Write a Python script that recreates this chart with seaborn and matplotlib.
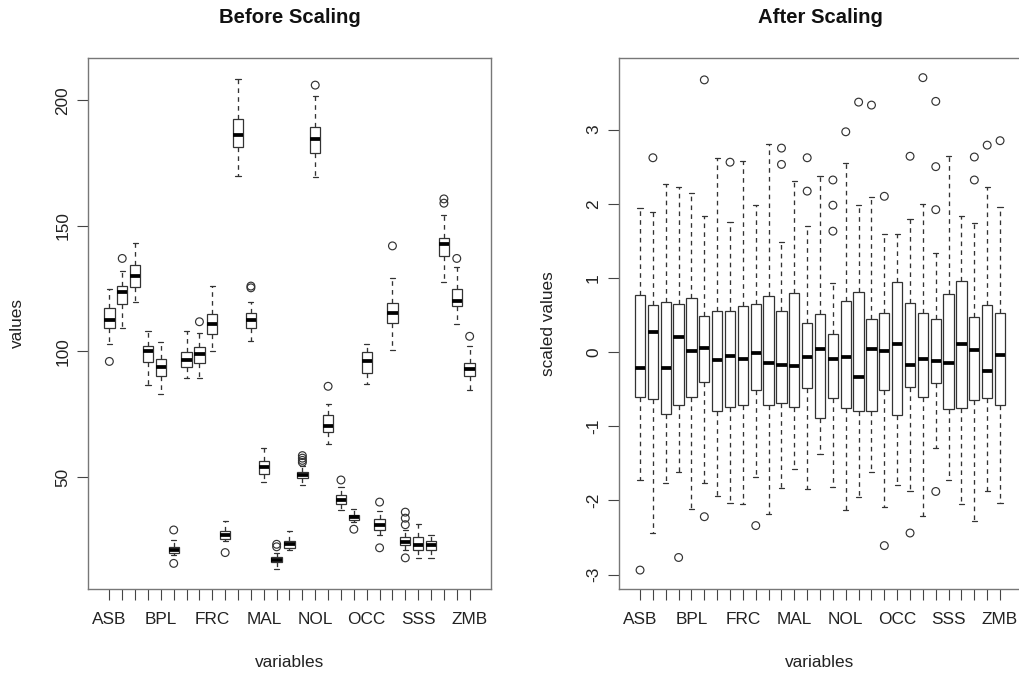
import numpy as np
import pandas as pd
import matplotlib
matplotlib.use('Agg')
import matplotlib.pyplot as plt
import seaborn as sns

sns.set_style('white')
plt.rcParams['font.family'] = ['Liberation Sans', 'DejaVu Sans']

# 29 variables, R only printed every 4th name on the axis
labels = ['ASB', '', '', '', 'BPL', '', '', '', 'FRC', '', '', '', 'MAL', '', '', '',
          'NOL', '', '', '', 'OCC', '', '', '', 'SSS', '', '', '', 'ZMB']
box_no = list(range(len(labels)))

#%% raw values (five number summaries)
whislo_raw = [102.8, 109.2, 119.8, 86.8, 82.9, 19.0, 89.3, 89.3, 100.0, 24.6,
              170.0, 104.0, 48.1, 13.2, 21.1, 46.7, 169.3, 63.0, 37.0, 32.0,
              87.2, 26.7, 100.4, 21.1, 17.8, 17.8, 127.5, 110.9, 84.8]
q1_raw = [109.5, 118.8, 125.5, 95.7, 90.3, 19.9, 93.9, 95.3, 107.1, 25.3,
          181.5, 109.5, 51.2, 16.1, 21.8, 49.5, 178.9, 68.0, 39.1, 32.7,
          91.5, 28.9, 111.4, 22.8, 21.1, 21.1, 138.0, 118.1, 90.0]
med_raw = [112.5, 123.8, 130.0, 100.0, 93.6, 21.1, 96.7, 99.0, 110.9, 27.0,
           186.1, 112.4, 53.8, 17.1, 23.2, 50.9, 184.4, 70.1, 41.0, 33.9,
           96.0, 31.0, 115.2, 24.2, 22.9, 22.8, 142.7, 119.9, 92.9]
q3_raw = [117.4, 125.9, 134.4, 102.1, 96.9, 22.2, 99.6, 101.7, 114.9, 28.4,
          192.7, 115.2, 56.3, 18.2, 24.6, 52.1, 189.3, 74.7, 42.7, 35.0,
          99.7, 33.1, 119.2, 26.0, 26.0, 24.6, 145.2, 124.9, 95.3]
whishi_raw = [124.9, 132.0, 143.1, 108.3, 103.8, 25.0, 108.3, 107.4, 125.9, 32.4,
              208.5, 119.6, 61.6, 19.6, 28.4, 54.5, 201.7, 79.1, 45.9, 37.1,
              102.8, 36.4, 129.4, 28.9, 31.3, 26.7, 154.1, 133.4, 102.1]
outliers_raw = [[96.0], [137.0], [], [], [], [28.9, 15.6], [], [111.8], [], [19.9],
                [], [126.0, 125.3], [], [23.2, 22.2], [], [58.5, 57.5, 56.6, 55.8],
                [206.0], [86.1], [48.8], [29.2], [], [40.0, 21.8], [142.0],
                [36.0, 33.6, 31.0, 17.8], [], [], [160.7, 159.0], [137.0], [106.0]]

#%% scaled values (right panel)
whislo_sc = [-1.73, -2.44, -1.76, -1.62, -2.12, -1.76, -1.94, -2.04, -2.05, -1.68,
             -2.19, -1.83, -1.58, -1.84, -1.37, -1.82, -2.13, -1.96, -1.62, -2.09,
             -1.79, -1.88, -2.21, -1.29, -1.72, -2.05, -2.28, -1.88, -2.04]
q1_sc = [-0.60, -0.63, -0.84, -0.72, -0.60, -0.41, -0.80, -0.74, -0.72, -0.51,
         -0.72, -0.69, -0.74, -0.49, -0.89, -0.62, -0.76, -0.80, -0.80, -0.51,
         -0.85, -0.47, -0.60, -0.42, -0.77, -0.76, -0.64, -0.62, -0.71]
med_sc = [-0.22, 0.27, -0.22, 0.20, 0.02, 0.06, -0.11, -0.05, -0.10, -0.01,
          -0.15, -0.17, -0.19, -0.06, 0.04, -0.10, -0.06, -0.33, 0.04, 0.01,
          0.11, -0.18, -0.10, -0.12, -0.15, 0.11, 0.03, -0.25, -0.04]
q3_sc = [0.77, 0.64, 0.67, 0.65, 0.73, 0.49, 0.56, 0.55, 0.62, 0.65,
         0.76, 0.56, 0.79, 0.39, 0.51, 0.24, 0.69, 0.81, 0.44, 0.53,
         0.95, 0.66, 0.52, 0.45, 0.78, 0.96, 0.47, 0.64, 0.52]
whishi_sc = [1.94, 1.89, 2.27, 2.23, 2.15, 1.84, 2.62, 1.75, 2.58, 1.98,
             2.81, 1.49, 2.31, 1.70, 2.37, 0.93, 2.55, 1.98, 2.09, 1.59,
             1.59, 1.79, 2.00, 1.33, 2.65, 1.83, 1.74, 2.23, 1.95]
outliers_sc = [[-2.94], [2.62], [], [-2.77], [], [3.67, -2.22], [], [2.56], [], [-2.34],
               [], [2.75, 2.53], [], [2.62, 2.17], [], [2.32, 1.98, 1.63], [2.97],
               [3.37], [3.33], [2.10, -2.61], [], [2.64, -2.44], [3.70],
               [3.38, 2.50, 1.92, -1.88], [], [], [2.63, 2.32], [2.79], [2.85]]


def long_table(*cols):
    rows = []
    for i in box_no:
        for c in cols:
            rows.append((i, c[i]))
    return pd.DataFrame(rows, columns=['box', 'value'])


def flier_table(outs):
    rows = [(i, v) for i in box_no for v in outs[i]]
    return pd.DataFrame(rows, columns=['box', 'value'])


line_col = '#333333'


def draw(ax, summ, outs, ylim, yticks, title, ylabel):
    df = long_table(*summ)
    sns.boxplot(data=df, x='box', y='value', order=box_no, ax=ax, whis=(0, 100),
                width=0.8, color='white', linecolor=line_col, linewidth=0.9,
                medianprops=dict(color='black', linewidth=2.7),
                whiskerprops=dict(linestyle=(0, (3.5, 3.2)), linewidth=0.95))
    fl = flier_table(outs)
    sns.stripplot(data=fl, x='box', y='value', order=box_no, ax=ax, jitter=False,
                  size=5.6, color='white', edgecolor=line_col, linewidth=0.85)
    for coll in ax.collections:
        coll.set_facecolor('none')
        coll.set_edgecolor(line_col)
    ax.set_xlim(-1.66, 29.66)
    ax.set_ylim(*ylim)
    ax.set_xticks(box_no)
    ax.set_xticklabels(labels)
    ax.set_yticks(yticks)
    ax.set_yticklabels([str(t) for t in yticks], rotation=90, va='center')
    ax.tick_params(axis='both', direction='out', length=7.8, width=0.8,
                   color='#444444', labelsize=12.4, labelcolor='#222222',
                   bottom=True, left=True)
    ax.tick_params(axis='x', pad=9)
    ax.tick_params(axis='y', pad=5)
    for sp in ax.spines.values():
        sp.set_visible(True)
        sp.set_color('#777777')
        sp.set_linewidth(1.0)
    ax.grid(False)
    ax.set_xlabel('variables', fontsize=12.4, color='#222222')
    ax.set_ylabel(ylabel, fontsize=12.4, color='#222222')
    ax.xaxis.set_label_coords(0.5, -0.139)
    ax.xaxis.label.set_va('center')
    ax.yaxis.set_label_coords(-0.175, 0.5)
    ax.yaxis.label.set_va('center')
    ax.set_title(title, fontsize=14.6, fontweight='bold', color='#111111',
                 y=1.076, pad=0, va='center')


fig = plt.figure(figsize=(10.2, 6.77), dpi=100)
ax1 = fig.add_axes([88 / 1020, 88 / 677, 403 / 1020, 531 / 677])
ax2 = fig.add_axes([618.7 / 1020, 88 / 677, 402.7 / 1020, 531 / 677])

draw(ax1, (whislo_raw, q1_raw, med_raw, q3_raw, whishi_raw), outliers_raw,
     (5.4, 216.8), [50, 100, 150, 200], 'Before Scaling', 'values')
draw(ax2, (whislo_sc, q1_sc, med_sc, q3_sc, whishi_sc), outliers_sc,
     (-3.195, 3.965), [-3, -2, -1, 0, 1, 2, 3], 'After Scaling', 'scaled values')

fig.savefig('out.png', dpi=100, facecolor='white')
